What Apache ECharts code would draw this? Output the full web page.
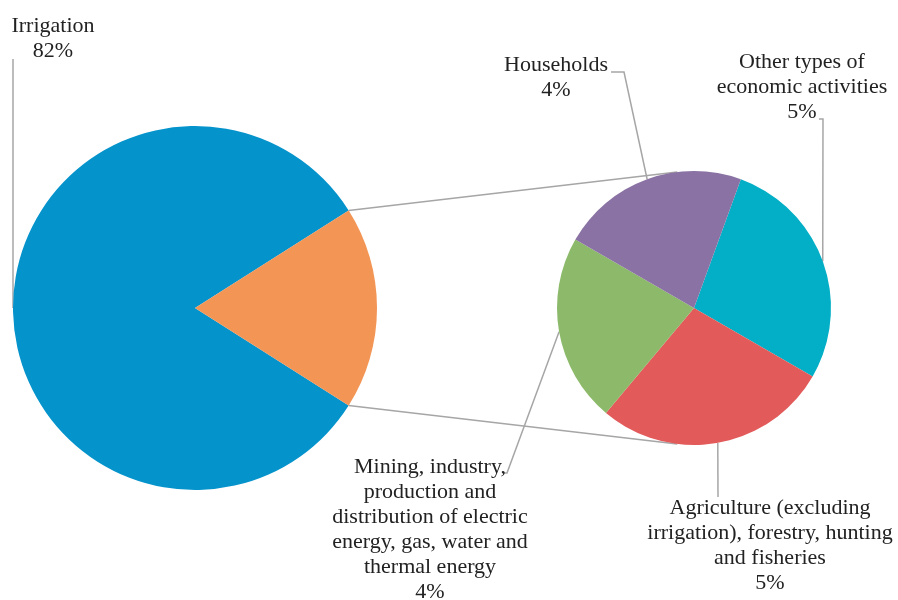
<!DOCTYPE html>
<html>
<head>
<meta charset="utf-8">
<script src="https://cdn.jsdelivr.net/npm/echarts@6/dist/echarts.min.js"></script>
<style>
  html, body { margin: 0; padding: 0; background: #ffffff; }
  #chart { width: 898px; height: 600px; }
</style>
</head>
<body>
<div id="chart"></div>
<script>
// Water withdrawal shares (% of total)
const mainNames = ['Irrigation', 'Other uses'];
const mainValues = [82, 18];

// Breakdown of the non-irrigation share, listed clockwise
const detailNames = [
  'Other types of\neconomic activities',
  'Agriculture (excluding\nirrigation), forestry, hunting\nand fisheries',
  'Mining, industry,\nproduction and\ndistribution of electric\nenergy, gas, water and\nthermal energy',
  'Households'
];
const detailValues = [5, 5, 4, 4];

// Styling and layout
const mainColors = ['#0593cc', '#f39555'];
const detailColors = ['#03afc6', '#e35a5a', '#8cba6a', '#8a72a4'];
const lineColor = '#a6a6a6';
const textColor = '#222222';
const font = 'Liberation Serif';

const mainCenter = [195, 308], mainR = 182;
const detailCenter = [694, 308], detailR = 137;

// label anchors (center of text block) and leader-line bends
const mainLabelPos = [{ x: 53, y: 39, bend: [13, 59], end: [13, 59] }];
const detailLabelPos = [
  { x: 802, y: 87,  bend: [823, 119], end: [819, 119] },
  { x: 770, y: 546, bend: [718, 497], end: [718, 497] },
  { x: 430, y: 530, bend: [507, 473], end: [503, 473] },
  { x: 556, y: 78,  bend: [624, 72],  end: [611, 72] }
];

const total = mainValues.reduce((a, b) => a + b, 0);
const halfOther = mainValues[1] / total * 180; // half-angle of the exploded slice

const labelStyle = {
  show: true,
  position: 'outside',
  color: textColor,
  fontFamily: font,
  fontSize: 22,
  lineHeight: 25,
  align: 'center',
  formatter: p => p.name + '\n' + p.value + '%'
};
const labelLineStyle = {
  show: true,
  length: 10,
  length2: 10,
  lineStyle: { color: lineColor, width: 1.5 }
};

function makeLayout(positions) {
  return function (p) {
    const pos = positions[p.dataIndex];
    if (!pos || !p.labelLinePoints) return {};
    const a = p.labelLinePoints[0];
    return {
      x: pos.x,
      y: pos.y,
      align: 'center',
      verticalAlign: 'middle',
      labelLinePoints: [[a[0], a[1]], pos.bend, pos.end]
    };
  };
}

// connector lines between the exploded slice and the secondary pie
const rad = Math.PI / 180;
const tA = halfOther * rad;
const pTop = [mainCenter[0] + mainR * Math.cos(tA), mainCenter[1] - mainR * Math.sin(tA)];
const pBot = [mainCenter[0] + mainR * Math.cos(tA), mainCenter[1] + mainR * Math.sin(tA)];
const off = 7 * rad;
const qTop = [detailCenter[0] - detailR * Math.sin(off), detailCenter[1] - detailR * Math.cos(off)];
const qBot = [detailCenter[0] - detailR * Math.sin(off), detailCenter[1] + detailR * Math.cos(off)];

const chart = echarts.init(document.getElementById('chart'), null, { renderer: 'canvas' });
chart.setOption({
  animation: false,
  backgroundColor: '#ffffff',
  graphic: [
    { type: 'line', z: -1, shape: { x1: pTop[0], y1: pTop[1], x2: qTop[0], y2: qTop[1] }, style: { stroke: lineColor, lineWidth: 1.5 } },
    { type: 'line', z: -1, shape: { x1: pBot[0], y1: pBot[1], x2: qBot[0], y2: qBot[1] }, style: { stroke: lineColor, lineWidth: 1.5 } }
  ],
  series: [
    {
      type: 'pie',
      center: mainCenter,
      radius: [0, mainR],
      startAngle: -halfOther,
      clockwise: true,
      avoidLabelOverlap: false,
      silent: true,
      label: labelStyle,
      labelLine: labelLineStyle,
      labelLayout: makeLayout(mainLabelPos),
      data: mainNames.map((n, i) => ({
        name: n,
        value: mainValues[i],
        itemStyle: { color: mainColors[i] },
        label: i === 0 ? {} : { show: false },
        labelLine: i === 0 ? {} : { show: false }
      }))
    },
    {
      type: 'pie',
      center: detailCenter,
      radius: [0, detailR],
      startAngle: 70,
      clockwise: true,
      avoidLabelOverlap: false,
      silent: true,
      label: labelStyle,
      labelLine: labelLineStyle,
      labelLayout: makeLayout(detailLabelPos),
      data: detailNames.map((n, i) => ({
        name: n,
        value: detailValues[i],
        itemStyle: { color: detailColors[i] }
      }))
    }
  ]
});
</script>
</body>
</html>
